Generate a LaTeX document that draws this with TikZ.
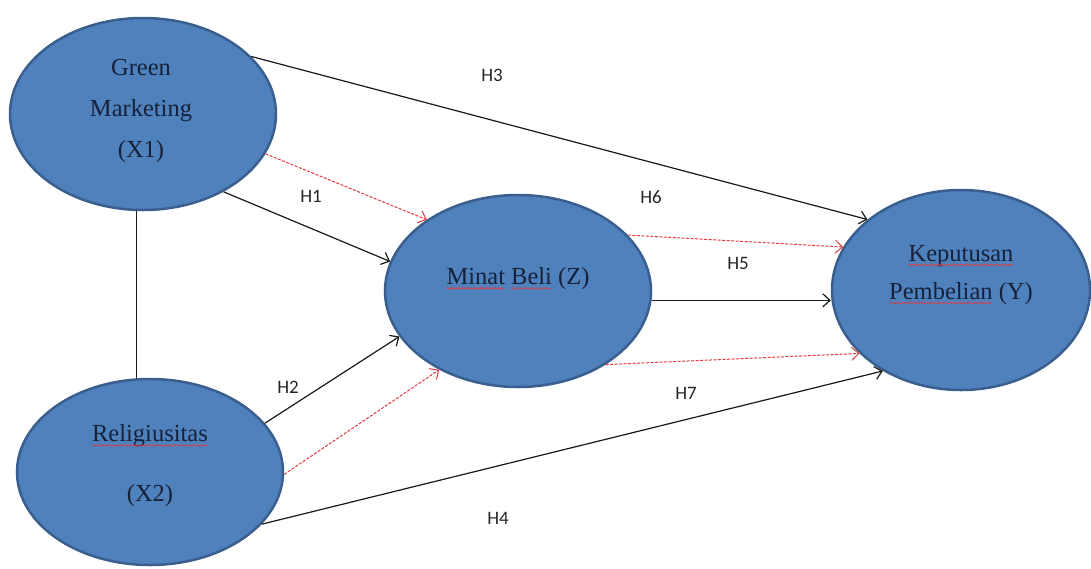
\documentclass[tikz,border=0pt]{standalone}
\usepackage{fontspec}
\setmainfont{Liberation Serif}
\newfontfamily\labelfont{Carlito}
\usetikzlibrary{shapes.geometric,arrows.meta,decorations.pathmorphing}

\definecolor{construct}{HTML}{4F81BD}
\definecolor{constructedge}{HTML}{3A5F8F}
\definecolor{constructtext}{HTML}{16213A}
\definecolor{mediated}{HTML}{E23A3F}

% red wavy underline (spell-check mark) under a word
\newcommand\spellmark[1]{\tikz[baseline=(sm.base),x=1pt,y=1pt]{%
  \node[rectangle,draw=none,fill=none,inner sep=0pt,outer sep=0pt,text=constructtext] (sm) {#1};
  \draw[overlay,draw=mediated,line width=0.6pt,decorate,
        decoration={snake,amplitude=0.8pt,segment length=3pt}]
        ([yshift=-3.5pt]sm.base west) -- ([yshift=-3.5pt]sm.base east);}}

\begin{document}
\begin{tikzpicture}[x=1pt,y=-1pt,
  construct/.style={ellipse, draw=constructedge, line width=2.5pt, fill=construct, inner sep=0pt},
  constructlabel/.style={align=center, text=constructtext, font=\fontsize{24.5}{#1}\selectfont},
  constructlabel/.default=41,
  hyp/.style={font=\labelfont\fontsize{19}{22}\selectfont, text=black!85},
  effect/.style={line width=1.2pt, draw=black!90, -{Straight Barb[length=7pt,width=13pt,line width=1.2pt]}},
  mediatedeffect/.style={line width=1pt, draw=mediated, dash pattern=on 3pt off 1.5pt,
     -{Straight Barb[length=7pt,width=13pt,line width=1pt,sep=0pt]}},
  link/.style={line width=1.2pt, draw=black!90}]

  \fill[white] (0,0) rectangle (1091,568);
  \useasboundingbox (0,0) rectangle (1091,568);

  % constructs
  \node[construct, minimum width=266pt, minimum height=192pt] (gm)  at (143,114) {};
  \node[construct, minimum width=266pt, minimum height=186pt] (rel) at (150,472) {};
  \node[construct, minimum width=266pt, minimum height=192pt] (mb)  at (518,291) {};
  \node[construct, minimum width=258pt, minimum height=200pt] (kp)  at (961,290) {};

  \node[constructlabel] (gmtext) at (141,111) {Green\\Marketing\\(X1)};
  \node[constructlabel=60] (reltext) at (150,466) {\spellmark{Religiusitas}\\(X2)};
  \node[constructlabel] (mbtext) at (518,279) {\spellmark{Minat} \spellmark{Beli} (Z)};
  \node[constructlabel=38] (kptext) at (961,275) {\spellmark{Keputusan}\\\spellmark{Pembelian} (Y)};

  % correlation between exogenous constructs
  \draw[link] (gm.-94) -- (gm.-94 |- rel.north);

  % direct effects
  \draw[effect] (gm.28)   -- (kp.143);
  \draw[effect] (gm.-44)  -- (mb.167);
  \draw[effect] (rel.23)  -- (mb.201);
  \draw[effect] (rel.-25) -- (kp.226);
  \draw[effect] (mb.-4)   -- (mb.-4 -| kp.west);

  % mediated effects
  \draw[mediatedeffect] (gm.-18) -- (mb.142);
  \draw[mediatedeffect] (rel.-1) -- (mb.225);
  \draw[mediatedeffect] (mb.27)  -- (kp.160);
  \draw[mediatedeffect] (mb.-40) -- (kp.212);

  % hypothesis labels
  \node[hyp] (h3) at (492,75)  {H3};
  \node[hyp] (h1) at (311,196) {H1};
  \node[hyp] (h6) at (651,197) {H6};
  \node[hyp] (h5) at (738,263) {H5};
  \node[hyp] (h2) at (288,387) {H2};
  \node[hyp] (h7) at (686,393) {H7};
  \node[hyp] (h4) at (498,518) {H4};
\end{tikzpicture}
\end{document}
